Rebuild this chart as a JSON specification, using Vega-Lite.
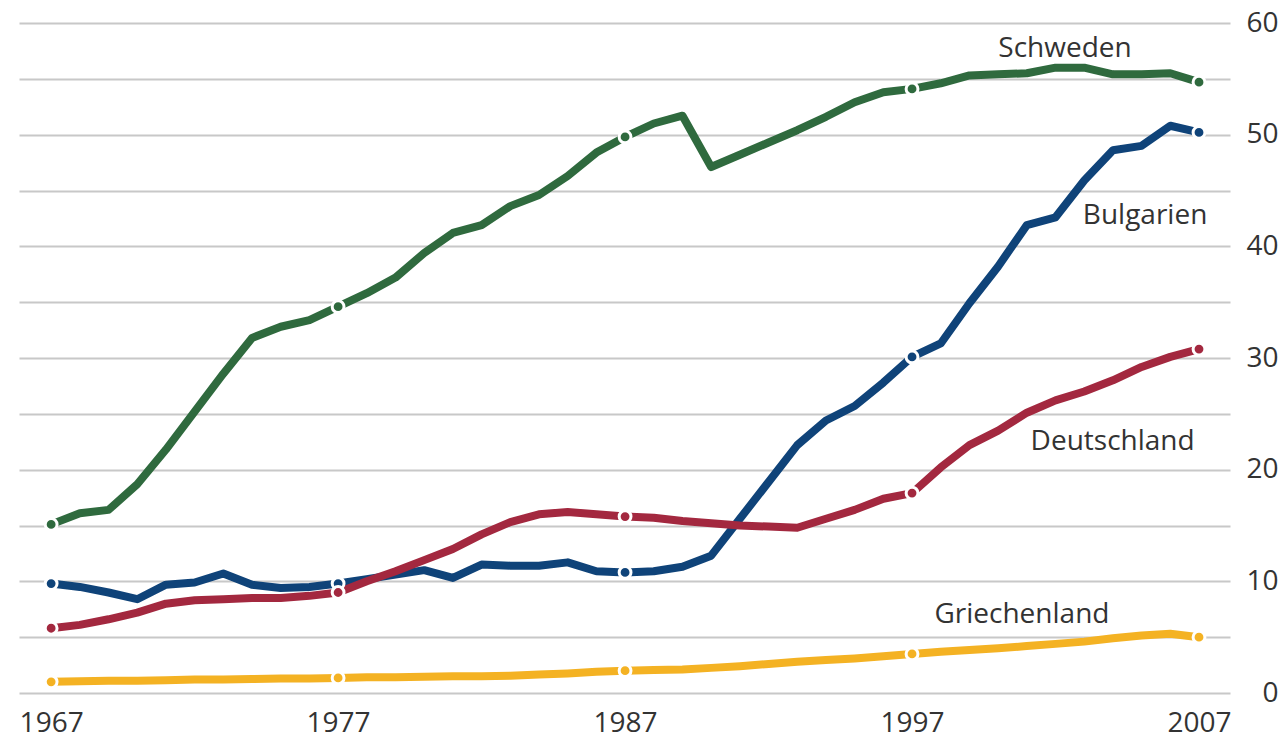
{
  "$schema": "https://vega.github.io/schema/vega-lite/v6.json",
  "width": 1211,
  "height": 670,
  "autosize": {"type": "none"},
  "padding": {"left": 19, "top": 23, "right": 56, "bottom": 47},
  "background": "white",
  "config": {"view": {"stroke": null}},
  "datasets": {
    "series": [
      {"year":1967,"country":"Schweden","value":15.1},{"year":1968,"country":"Schweden","value":16.1},{"year":1969,"country":"Schweden","value":16.4},{"year":1970,"country":"Schweden","value":18.7},{"year":1971,"country":"Schweden","value":21.8},{"year":1972,"country":"Schweden","value":25.2},{"year":1973,"country":"Schweden","value":28.6},{"year":1974,"country":"Schweden","value":31.8},{"year":1975,"country":"Schweden","value":32.8},{"year":1976,"country":"Schweden","value":33.4},{"year":1977,"country":"Schweden","value":34.6},{"year":1978,"country":"Schweden","value":35.8},{"year":1979,"country":"Schweden","value":37.2},{"year":1980,"country":"Schweden","value":39.4},{"year":1981,"country":"Schweden","value":41.2},{"year":1982,"country":"Schweden","value":41.9},{"year":1983,"country":"Schweden","value":43.6},{"year":1984,"country":"Schweden","value":44.6},{"year":1985,"country":"Schweden","value":46.3},{"year":1986,"country":"Schweden","value":48.4},{"year":1987,"country":"Schweden","value":49.8},{"year":1988,"country":"Schweden","value":51.0},{"year":1989,"country":"Schweden","value":51.7},{"year":1990,"country":"Schweden","value":47.1},{"year":1991,"country":"Schweden","value":48.2},{"year":1992,"country":"Schweden","value":49.3},{"year":1993,"country":"Schweden","value":50.4},{"year":1994,"country":"Schweden","value":51.6},{"year":1995,"country":"Schweden","value":52.9},{"year":1996,"country":"Schweden","value":53.8},{"year":1997,"country":"Schweden","value":54.1},{"year":1998,"country":"Schweden","value":54.6},{"year":1999,"country":"Schweden","value":55.3},{"year":2000,"country":"Schweden","value":55.4},{"year":2001,"country":"Schweden","value":55.5},{"year":2002,"country":"Schweden","value":56.0},{"year":2003,"country":"Schweden","value":56.0},{"year":2004,"country":"Schweden","value":55.4},{"year":2005,"country":"Schweden","value":55.4},{"year":2006,"country":"Schweden","value":55.5},{"year":2007,"country":"Schweden","value":54.7},
      {"year":1967,"country":"Bulgarien","value":9.8},{"year":1968,"country":"Bulgarien","value":9.5},{"year":1969,"country":"Bulgarien","value":9.0},{"year":1970,"country":"Bulgarien","value":8.4},{"year":1971,"country":"Bulgarien","value":9.7},{"year":1972,"country":"Bulgarien","value":9.9},{"year":1973,"country":"Bulgarien","value":10.7},{"year":1974,"country":"Bulgarien","value":9.7},{"year":1975,"country":"Bulgarien","value":9.4},{"year":1976,"country":"Bulgarien","value":9.5},{"year":1977,"country":"Bulgarien","value":9.8},{"year":1978,"country":"Bulgarien","value":10.2},{"year":1979,"country":"Bulgarien","value":10.6},{"year":1980,"country":"Bulgarien","value":11.0},{"year":1981,"country":"Bulgarien","value":10.3},{"year":1982,"country":"Bulgarien","value":11.5},{"year":1983,"country":"Bulgarien","value":11.4},{"year":1984,"country":"Bulgarien","value":11.4},{"year":1985,"country":"Bulgarien","value":11.7},{"year":1986,"country":"Bulgarien","value":10.9},{"year":1987,"country":"Bulgarien","value":10.8},{"year":1988,"country":"Bulgarien","value":10.9},{"year":1989,"country":"Bulgarien","value":11.3},{"year":1990,"country":"Bulgarien","value":12.3},{"year":1991,"country":"Bulgarien","value":15.6},{"year":1992,"country":"Bulgarien","value":18.9},{"year":1993,"country":"Bulgarien","value":22.2},{"year":1994,"country":"Bulgarien","value":24.4},{"year":1995,"country":"Bulgarien","value":25.7},{"year":1996,"country":"Bulgarien","value":27.8},{"year":1997,"country":"Bulgarien","value":30.1},{"year":1998,"country":"Bulgarien","value":31.3},{"year":1999,"country":"Bulgarien","value":34.9},{"year":2000,"country":"Bulgarien","value":38.2},{"year":2001,"country":"Bulgarien","value":41.9},{"year":2002,"country":"Bulgarien","value":42.6},{"year":2003,"country":"Bulgarien","value":45.9},{"year":2004,"country":"Bulgarien","value":48.6},{"year":2005,"country":"Bulgarien","value":49.0},{"year":2006,"country":"Bulgarien","value":50.8},{"year":2007,"country":"Bulgarien","value":50.2},
      {"year":1967,"country":"Deutschland","value":5.8},{"year":1968,"country":"Deutschland","value":6.1},{"year":1969,"country":"Deutschland","value":6.6},{"year":1970,"country":"Deutschland","value":7.2},{"year":1971,"country":"Deutschland","value":8.0},{"year":1972,"country":"Deutschland","value":8.3},{"year":1973,"country":"Deutschland","value":8.4},{"year":1974,"country":"Deutschland","value":8.5},{"year":1975,"country":"Deutschland","value":8.5},{"year":1976,"country":"Deutschland","value":8.7},{"year":1977,"country":"Deutschland","value":9.0},{"year":1978,"country":"Deutschland","value":10.0},{"year":1979,"country":"Deutschland","value":10.9},{"year":1980,"country":"Deutschland","value":11.9},{"year":1981,"country":"Deutschland","value":12.9},{"year":1982,"country":"Deutschland","value":14.2},{"year":1983,"country":"Deutschland","value":15.3},{"year":1984,"country":"Deutschland","value":16.0},{"year":1985,"country":"Deutschland","value":16.2},{"year":1986,"country":"Deutschland","value":16.0},{"year":1987,"country":"Deutschland","value":15.8},{"year":1988,"country":"Deutschland","value":15.7},{"year":1989,"country":"Deutschland","value":15.4},{"year":1990,"country":"Deutschland","value":15.2},{"year":1991,"country":"Deutschland","value":15.0},{"year":1992,"country":"Deutschland","value":14.9},{"year":1993,"country":"Deutschland","value":14.8},{"year":1994,"country":"Deutschland","value":15.6},{"year":1995,"country":"Deutschland","value":16.4},{"year":1996,"country":"Deutschland","value":17.4},{"year":1997,"country":"Deutschland","value":17.9},{"year":1998,"country":"Deutschland","value":20.2},{"year":1999,"country":"Deutschland","value":22.2},{"year":2000,"country":"Deutschland","value":23.5},{"year":2001,"country":"Deutschland","value":25.1},{"year":2002,"country":"Deutschland","value":26.2},{"year":2003,"country":"Deutschland","value":27.0},{"year":2004,"country":"Deutschland","value":28.0},{"year":2005,"country":"Deutschland","value":29.2},{"year":2006,"country":"Deutschland","value":30.1},{"year":2007,"country":"Deutschland","value":30.8},
      {"year":1967,"country":"Griechenland","value":1.0},{"year":1968,"country":"Griechenland","value":1.05},{"year":1969,"country":"Griechenland","value":1.1},{"year":1970,"country":"Griechenland","value":1.1},{"year":1971,"country":"Griechenland","value":1.15},{"year":1972,"country":"Griechenland","value":1.2},{"year":1973,"country":"Griechenland","value":1.2},{"year":1974,"country":"Griechenland","value":1.25},{"year":1975,"country":"Griechenland","value":1.3},{"year":1976,"country":"Griechenland","value":1.3},{"year":1977,"country":"Griechenland","value":1.35},{"year":1978,"country":"Griechenland","value":1.4},{"year":1979,"country":"Griechenland","value":1.4},{"year":1980,"country":"Griechenland","value":1.45},{"year":1981,"country":"Griechenland","value":1.5},{"year":1982,"country":"Griechenland","value":1.5},{"year":1983,"country":"Griechenland","value":1.55},{"year":1984,"country":"Griechenland","value":1.65},{"year":1985,"country":"Griechenland","value":1.75},{"year":1986,"country":"Griechenland","value":1.9},{"year":1987,"country":"Griechenland","value":2.0},{"year":1988,"country":"Griechenland","value":2.05},{"year":1989,"country":"Griechenland","value":2.1},{"year":1990,"country":"Griechenland","value":2.25},{"year":1991,"country":"Griechenland","value":2.4},{"year":1992,"country":"Griechenland","value":2.6},{"year":1993,"country":"Griechenland","value":2.8},{"year":1994,"country":"Griechenland","value":2.95},{"year":1995,"country":"Griechenland","value":3.1},{"year":1996,"country":"Griechenland","value":3.3},{"year":1997,"country":"Griechenland","value":3.5},{"year":1998,"country":"Griechenland","value":3.7},{"year":1999,"country":"Griechenland","value":3.85},{"year":2000,"country":"Griechenland","value":4.0},{"year":2001,"country":"Griechenland","value":4.2},{"year":2002,"country":"Griechenland","value":4.4},{"year":2003,"country":"Griechenland","value":4.6},{"year":2004,"country":"Griechenland","value":4.9},{"year":2005,"country":"Griechenland","value":5.15},{"year":2006,"country":"Griechenland","value":5.3},{"year":2007,"country":"Griechenland","value":5.0}
    ],
    "labels": [
      {"label":"Schweden","year":2002.33,"value":56.94},
      {"label":"Bulgarien","year":2005.12,"value":42.0},
      {"label":"Deutschland","year":2003.99,"value":21.75},
      {"label":"Griechenland","year":2000.83,"value":6.27}
    ]
  },
  "encoding": {
    "x": {"field": "year", "type": "quantitative",
      "scale": {"domain": [1965.88, 2008.08], "nice": false, "zero": false},
      "axis": {"orient": "bottom", "values": [1967, 1977, 1987, 1997, 2007], "format": "d", "title": null,
        "grid": false, "domain": false, "ticks": false, "tickSize": 0, "labelPadding": 16, "labelFlush": false,
        "labelFont": "Open Sans", "labelFontSize": 28, "labelColor": "#333333", "labelOverlap": false}},
    "y": {"field": "value", "type": "quantitative",
      "scale": {"domain": [0, 60], "nice": false},
      "axis": {"orient": "right", "values": [0,5,10,15,20,25,30,35,40,45,50,55,60], "title": null,
        "labelExpr": "datum.value % 10 === 0 ? datum.label : ''",
        "grid": true, "gridColor": "#c8c8c8", "gridWidth": 1.8, "domain": false, "ticks": false, "tickSize": 0,
        "labelAlign": "right", "labelBaseline": "middle", "labelPadding": 48, "labelFlush": false,
        "labelFont": "Open Sans", "labelFontSize": 28, "labelColor": "#333333", "labelOverlap": false}}
  },
  "layer": [
    {
      "data": {"name": "series"},
      "mark": {"type": "line", "strokeWidth": 8, "strokeJoin": "round", "strokeCap": "butt"},
      "encoding": {
        "color": {"field": "country", "type": "nominal",
          "scale": {"domain": ["Griechenland", "Deutschland", "Bulgarien", "Schweden"], "range": ["#f4b223", "#a3283f", "#0f4379", "#2f6a3e"]},
          "legend": null},
        "detail": {"field": "country"}
      }
    },
    {
      "data": {"name": "series"},
      "transform": [{"filter": {"field": "year", "oneOf": [1967, 1977, 1987, 1997, 2007]}}],
      "mark": {"type": "point", "filled": true, "opacity": 1, "size": 140, "stroke": "white", "strokeWidth": 3},
      "encoding": {
        "color": {"field": "country", "type": "nominal",
          "scale": {"domain": ["Griechenland", "Deutschland", "Bulgarien", "Schweden"], "range": ["#f4b223", "#a3283f", "#0f4379", "#2f6a3e"]},
          "legend": null}
      }
    },
    {
      "data": {"name": "labels"},
      "mark": {"type": "text", "font": "Open Sans", "fontSize": 28, "color": "#333333", "align": "center", "baseline": "alphabetic"},
      "encoding": {
        "text": {"field": "label"}
      }
    }
  ]
}
